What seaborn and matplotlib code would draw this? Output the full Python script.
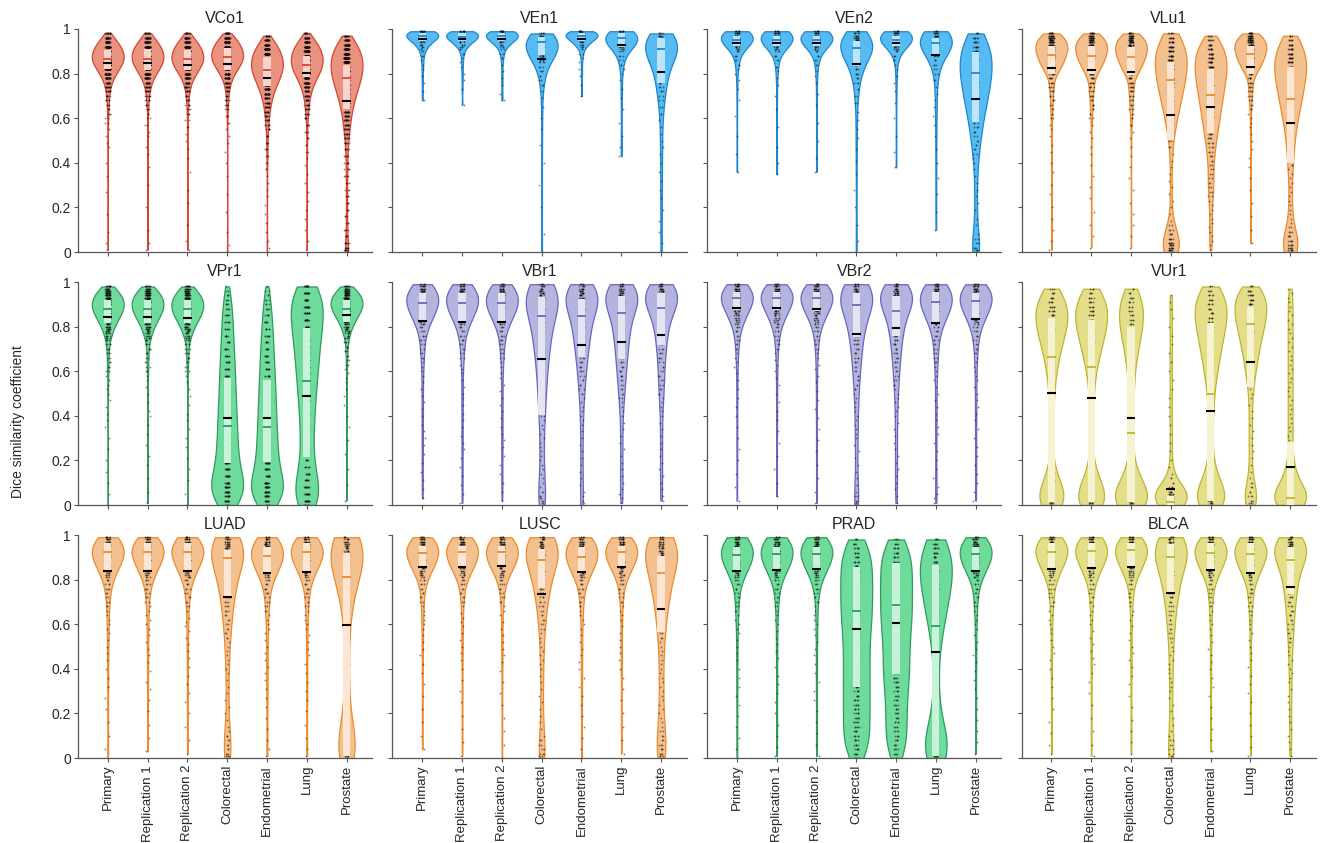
import numpy as np
import pandas as pd
import matplotlib
matplotlib.use("Agg")
import matplotlib.pyplot as plt
import seaborn as sns

sns.set_theme(style="ticks")
plt.rcParams["font.family"] = ["Liberation Sans", "DejaVu Sans"]

GROUPS = ["Primary", "Replication 1", "Replication 2", "Colorectal",
          "Endometrial", "Lung", "Prostate"]
PANELS = ["VCo1", "VEn1", "VEn2", "VLu1",
          "VPr1", "VBr1", "VBr2", "VUr1",
          "LUAD", "LUSC", "PRAD", "BLCA"]

# Dice scores per panel and cohort, written as "value:count" in hundredths
# (a bare value means a single case).
SCORES = {
    "VCo1": [
        "98:14 96:32 94:50 92:64 90:74 88:80 86:78 84:68 82:54 80:40 78:28 76:19 74:13 72:9 70:7 68:5 66:4 64:3 62:3 60:2 58:2 55 52 49 47 40 34 27 17 9 4 1",
        "98:15 96:33 94:50 92:63 90:73 88:78 86:77 84:67 82:55 80:41 78:29 76:20 74:14 72:10 70:7 68:5 66:4 64:3 62:2 60:2 57:2 54 52 47 44 38 30 20 10 4 1",
        "98:14 96:31 94:49 92:62 90:72 88:78 86:78 84:69 82:55 80:42 78:30 76:20 74:14 72:10 70:7 68:5 66:4 64:3 62:3 59:2 56:2 53 50 46 42 36 28 22 12 5 1",
        "98:20 96:40 94:56 92:68 90:76 88:80 86:76 84:64 82:50 80:36 78:25 76:17 74:12 72:8 70:6 68:5 66:4 64:3 61:3 58:2 55 52 49 45 40 34 26 18 9 3 0",
        "97:12 95:26 93:38 91:48 89:56 87:62 85:64 83:64 81:60 79:54 77:46 75:38 73:31 71:25 69:20 67:16 65:13 63:10 61:8 59:7 57:6 55:5 52:4 49:4 46:3 43:3 40:2 37:2 34 31 28 25 21 17 13 9 5 2 0",
        "98:12 96:28 94:42 92:54 90:62 88:68 86:70 84:68 82:62 80:52 78:42 76:33 74:25 72:19 70:14 68:11 66:9 64:7 62:6 60:5 57:4 54:3 51:3 48:2 45:2 42 39 35 31 27 23 19 15 10 5 1",
        "97:14 95:28 93:40 91:48 89:54 87:58 85:60 83:60 81:58 79:55 77:50 75:45 73:40 71:35 69:30 67:26 65:22 63:19 61:16 59:14 57:12 55:10 53:9 51:8 49:7 46:6 43:5 40:5 37:4 34:4 31:3 28:3 25:3 22:3 19:3 16:3 13:3 10:4 7:5 4:6 2:7 1:6 0:5",
    ],
    "VEn1": [
        "99:10 98:14 97:12 96:9 95:7 94:5 93:4 92:3 91:2 90:2 88:2 86 84 82 79 76 72 68",
        "99:9 98:13 97:12 96:10 95:7 94:5 93:4 92:3 91:2 89:2 87 85 83 80 77 73 66",
        "99:10 98:13 97:12 96:9 95:7 94:5 93:4 92:3 91:2 89:2 87:2 84 81 78 75 71 68",
        "98:6 97:8 96:9 95:9 94:9 93:8 92:8 91:7 90:6 89:6 88:5 87:5 86:4 85:4 83:3 81:3 79:2 77:2 75:2 72 69 65 60 55 48 40 30 20 8 0",
        "99:10 98:14 97:12 96:9 95:7 94:5 93:4 92:3 91:2 89:2 87 85 82 79 75 70",
        "99:8 98:10 97:10 96:9 95:8 94:7 93:6 92:5 91:4 90:3 88:3 86:2 84:2 82 80 77 73 69 64 58 52 47 43",
        "98:5 97:6 96:7 95:7 94:7 93:7 92:7 91:7 90:6 89:6 88:6 86:5 84:5 82:4 80:4 78:4 76:3 74:3 72:3 70:2 68:2 65:2 62:2 59 56 53 50 47 44 40 36 32 28 24 19 14 9 4 0",
    ],
    "VEn2": [
        "99:8 98:12 97:13 96:12 95:10 94:8 93:6 92:5 91:4 90:3 88:3 86:2 84:2 82 80 77 73 68 61 52 44 36",
        "99:8 98:12 97:13 96:12 95:10 94:8 93:6 92:5 91:4 90:3 88:3 86:2 83:2 81 78 75 70 64 56 47 40 35",
        "99:8 98:11 97:13 96:12 95:10 94:8 93:6 92:5 91:4 90:3 88:3 86:2 84:2 81 79 76 71 66 58 50 42 36",
        "99:4 98:6 97:7 96:8 95:8 94:8 93:8 92:8 91:7 90:7 89:6 88:6 87:5 86:5 84:5 82:4 80:4 78:3 76:3 73:2 70:2 67:2 63 59 55 51 46 41 35 28 20 12 5 0",
        "99:8 98:12 97:13 96:12 95:10 94:8 93:6 92:5 91:4 90:3 88:3 86:2 84 82 79 76 72 67 60 52 45 38",
        "99:6 98:8 97:9 96:9 95:9 94:8 93:7 92:6 91:5 90:5 89:4 88:4 86:3 84:3 82:2 80:2 77:2 74 71 68 65 61 57 52 46 40 33 26 18 10",
        "98:4 96:6 94:7 92:8 90:8 88:8 86:8 84:8 82:8 80:8 78:7 76:7 74:7 72:6 70:6 68:5 66:5 64:5 62:4 60:4 58:3 56:3 54:3 52:2 50:2 48:2 46:2 44:2 42 40 37 34 31 28 25 22 19 15 12 8 6:2 4:2 2:3 1:3 0:3",
    ],
    "VLu1": [
        "98:12 97:14 96:15 95:16 94:17 93:17 92:17 91:17 90:17 89:16 88:15 87:14 86:13 85:12 84:11 83:10 82:9 81:8 80:7 78:6 76:5 74:4 72:4 70:3 68:3 66:2 64:2 62:2 60:2 57 55 52 48 45 40 36 30 26 20 15 10 5 1",
        "98:11 97:13 96:14 95:15 94:16 93:17 92:17 91:17 90:16 89:16 88:15 87:14 86:13 85:12 84:11 83:10 82:9 81:8 80:8 78:7 76:6 74:5 72:4 70:4 68:3 66:3 64:2 62:2 60:2 57 54 51 47 44 39 34 29 24 18 12 7 2",
        "98:11 97:13 96:14 95:15 94:16 93:16 92:17 91:17 90:16 89:16 88:15 87:14 86:13 85:12 84:11 83:10 82:10 81:9 80:8 78:7 76:6 74:5 72:5 70:4 68:3 66:3 64:3 62:2 60:2 57:2 54 51 47 43 38 33 28 22 17 12 7 2",
        "98:6 96:9 94:11 92:12 90:13 88:13 86:13 84:13 82:12 80:12 78:11 76:10 74:10 72:9 70:8 68:8 66:7 64:6 62:5 60:5 58:4 56:3 54:3 52:2 50:2 47:2 44 41 38 35 32 29 26 23 20 17 14 12:2 10:3 8:4 6:6 4:8 3:8 2:8 1:7 0:5",
        "97:4 95:7 93:9 91:10 89:11 87:12 85:12 83:12 81:12 79:11 77:11 75:10 73:10 71:9 69:9 67:8 65:8 63:7 61:7 59:6 57:6 55:5 53:5 51:4 49:4 47:3 45:3 43:3 41:2 39:2 37:2 35:2 33:2 31:2 29:2 27:2 25:2 23 21 19 17 15 13 11 9 7 5 3 1",
        "98:12 97:14 96:15 95:16 94:17 93:17 92:17 91:17 90:17 89:16 88:15 87:14 86:13 85:12 84:11 83:10 82:9 81:8 80:7 78:6 76:5 74:4 72:4 70:3 68:3 66:2 64:2 62 60 58 56 53 50 46 42 38 33 28 22 16 10 4",
        "97:4 95:6 93:8 91:9 89:10 87:10 85:10 83:10 81:10 79:9 77:9 75:8 73:8 71:7 69:7 67:6 65:6 63:5 61:5 59:4 57:4 55:3 53:3 51:3 49:2 47:2 45:2 43:2 41:2 39:2 37 35 33 31 29 27 25 23 21 19 17 15 13 11:2 9:3 7:4 5:5 3:6 2:6 1:5 0:4",
    ],
    "VPr1": [
        "98:10 97:13 96:16 95:18 94:20 93:22 92:23 91:24 90:24 89:24 88:23 87:22 86:20 85:18 84:16 83:14 82:12 81:10 80:9 79:8 78:7 77:6 76:5 75:4 74:4 72:4 70:3 68:3 66:2 64:2 62:2 60:2 58 56 54 52 50 47 44 41 38 35 30 25 20 15 10 5 0",
        "98:10 97:13 96:16 95:18 94:20 93:22 92:23 91:24 90:24 89:23 88:23 87:22 86:20 85:18 84:16 83:14 82:12 81:11 80:9 79:8 78:7 77:6 76:5 75:4 74:4 72:4 70:3 68:3 66:2 64:2 62:2 60:2 58 56 53 50 46 42 40 36 32 27 22 18 12 6 1",
        "98:10 97:12 96:15 95:17 94:19 93:21 92:22 91:23 90:24 89:23 88:23 87:22 86:20 85:19 84:17 83:15 82:13 81:11 80:10 79:8 78:7 77:6 76:5 75:5 74:4 72:4 70:3 68:3 66:3 64:2 62:2 60:2 58 55 52 49 45 41 38 34 30 26 21 16 11 5 0",
        "98 96:2 94:3 92:3 90:4 88:4 85:6 82:6 79:6 76:7 73:7 70:7 67:8 64:8 61:8 58:9 55:9 52:9 49:9 46:10 43:10 40:10 37:11 34:11 31:11 28:11 25:12 22:12 19:13 16:14 13:15 10:16 8:16 6:16 4:14 2:12 0:8",
        "98 96:2 94:2 92:3 90:3 88:4 85:5 82:6 79:6 76:7 73:7 70:7 67:8 64:8 61:8 58:9 55:9 52:9 49:10 46:10 43:10 40:10 37:11 34:11 31:11 28:12 25:12 22:12 19:13 16:14 13:15 10:16 8:16 6:17 4:15 2:12 0:8",
        "98:14 95:16 92:16 89:16 86:15 83:15 80:14 77:13 74:12 71:12 68:11 65:11 62:10 59:10 56:9 53:9 50:8 47:8 44:7 41:7 38:7 35:6 32:6 29:6 26:6 23:6 20:6 17:7 14:8 11:10 8:12 5:14 2:15 0:10",
        "98:10 97:14 96:17 95:19 94:21 93:23 92:24 91:25 90:25 89:24 88:23 87:21 86:19 85:17 84:15 83:13 82:11 81:9 80:8 79:7 78:6 77:5 76:4 75:4 73:4 71:3 69:3 67:2 65:2 63:2 61 59 57 55 52 49 45 40 35 29 23 16 9 2",
    ],
    "VBr1": [
        "99:6 98:8 97:9 96:10 95:10 94:10 93:10 92:10 91:9 90:9 89:8 88:8 87:7 86:6 85:6 84:5 83:5 82:4 81:4 80:3 78:3 76:3 74:3 72:2 70:2 68:2 66:2 64 62 60 58 55 52 49 46 43 40 36 33 30 27 23 19 15 11 7 3",
        "99:6 98:8 97:9 96:10 95:10 94:10 93:10 92:10 91:9 90:9 89:8 88:8 87:7 86:6 85:6 84:5 83:5 82:4 81:4 80:3 78:3 76:3 74:3 72:2 70:2 68:2 66:2 63 61 59 56 53 50 48 45 41 38 35 31 28 25 21 17 13 9 5 1",
        "99:6 98:8 97:9 96:10 95:10 94:10 93:10 92:9 91:9 90:9 89:8 88:8 87:7 86:7 85:6 84:5 83:5 82:4 81:4 80:3 78:3 76:3 74:3 72:2 70:2 68:2 66:2 64 62 59 57 54 51 48 45 42 39 35 32 29 26 22 18 14 10 6 2",
        "99:5 98:6 97:6 96:6 95:6 94:6 93:6 92:6 91:6 90:6 88:6 86:6 84:5 82:5 80:5 78:5 76:4 74:4 72:4 70:4 68:3 66:3 64:3 62:3 60:3 58:2 56:2 54:2 52:2 50:2 48:2 46:2 44:2 42 40:2 38 36 34 32 30 28 26 24 22 20 18 16 14 12 10 8 6:2 4:2 3:2 2:2 1:2 0:2",
        "99:5 98:6 97:7 96:7 95:7 94:7 93:7 92:7 91:7 90:7 88:7 86:6 84:6 82:6 80:6 78:5 76:5 74:5 72:4 70:4 68:4 66:3 64:3 62:3 60:3 58:2 56:2 54:2 52:2 50:2 48 46 44 42 40 38 36 33 30 27 24 21 18 15 12 9 6 4 2 1 0",
        "99:5 98:7 97:7 96:7 95:7 94:7 93:7 92:7 91:7 90:7 88:6 86:6 84:6 82:6 80:5 78:5 76:5 74:4 72:4 70:4 68:4 66:3 64:3 62:3 60:3 58:3 56:2 54:2 52:2 50:2 48:2 46 44 42 40 37 34 31 28 25 22 19 16 13 10 7 5 3 1",
        "99:6 98:7 97:8 96:8 95:8 94:8 93:8 92:8 91:8 90:7 88:7 86:6 84:6 82:5 80:5 78:4 76:4 74:4 72:3 70:3 68:3 66:3 64:2 62:2 60:2 58:2 56:2 54:2 52:2 50:2 48 46 44 42 40 37 34 31 28 25 22 19 16 13 10 7 4 2",
    ],
    "VBr2": [
        "99:7 98:9 97:10 96:11 95:11 94:11 93:10 92:10 91:9 90:8 89:7 88:6 87:6 86:5 85:5 84:4 83:4 82:3 81:3 80:3 78:3 76:2 74:2 72:2 70:2 68 66 64 62 59 56 52 48 44 40 35 30 25 20 14 8 2",
        "99:7 98:9 97:10 96:11 95:11 94:11 93:10 92:10 91:9 90:8 89:7 88:6 87:6 86:5 85:5 84:4 83:4 82:3 81:3 80:3 78:3 76:2 74:2 72:2 70:2 68 65 63 60 57 54 50 46 42 38 33 28 22 16 10 4",
        "99:7 98:9 97:10 96:11 95:11 94:10 93:10 92:10 91:9 90:8 89:7 88:7 87:6 86:5 85:5 84:4 83:4 82:3 81:3 80:3 78:3 76:2 74:2 72:2 70:2 68 66 63 61 58 55 51 47 43 39 34 29 24 18 12 6 1",
        "99:6 98:7 97:8 96:8 95:8 94:8 93:8 92:8 91:7 90:7 88:7 86:6 84:6 82:5 80:5 78:5 76:4 74:4 72:4 70:3 68:3 66:3 64:3 62:2 60:2 58:2 56:2 54:2 52:2 50 48 46 44 42 40 38 36 34 32 30 27 24 21 18 15 12 9 6 4:2 2:2 1:2 0:2",
        "99:6 98:7 97:8 96:8 95:8 94:8 93:8 92:8 91:8 90:8 88:7 86:7 84:6 82:6 80:5 78:5 76:4 74:4 72:4 70:3 68:3 66:3 64:3 62:2 60:2 58:2 56:2 54:2 52 50 48 46 44 42 40 37 34 31 28 25 22 19 16 13 10 7 4 1",
        "99:7 98:9 97:10 96:10 95:10 94:10 93:9 92:9 91:8 90:8 89:7 88:7 87:6 86:6 85:5 84:5 83:4 82:4 81:4 80:3 78:3 76:3 74:3 72:2 70:2 68:2 66:2 64:2 62 60 58 56 53 50 47 44 41 38 35 32 28 24 20 16 12 8 5 3 1",
        "99:7 98:9 97:10 96:10 95:10 94:10 93:10 92:9 91:9 90:8 89:7 88:7 87:6 86:6 85:5 84:5 83:4 82:4 81:3 80:3 78:3 76:3 74:2 72:2 70:2 68:2 66 64 62 60 58 56 53 50 47 44 41 38 34 30 26 22 18 14 10 6 2",
    ],
    "VUr1": [
        "97:3 95:4 93:5 91:5 89:6 87:6 85:6 83:6 81:5 79:5 77:5 75:4 73:4 71:3 69:3 67:3 65:2 63:2 61:2 59:2 57 55 53 51 49 47 45 42 38 34 30 26 22 18 15:2 13:2 11:3 9:3 7:4 5:4 3:5 2:5 1:5 0:4",
        "97:3 95:4 93:5 91:5 89:5 87:6 85:6 83:5 81:5 79:5 77:4 75:4 73:4 71:3 69:3 67:3 65:2 63:2 61:2 59 57 55 53 51 49 46 43 40 36 32 28 24 20 17 15:2 13:2 11:3 9:3 7:4 5:4 3:5 2:5 1:6 0:4",
        "97:2 95:3 93:4 91:4 89:4 87:4 85:4 83:4 81:4 79:3 77:3 75:3 73:3 71:2 69:2 67:2 65:2 63 61 59 57 55 53 51 49 46 43 40 37 34 31 28 25 22 19 16:2 14:2 12:3 10:3 8:4 6:5 4:5 3:6 2:6 1:6 0:5",
        "94 91 88 84 80 76 72 68 64 60 56 52 48 44 40 36 32 28 24 20 17 14 12:2 10:2 8:3 7:4 6:5 5:6 4:7 3:7 2:7 1:6 0:5",
        "98:3 96:4 94:5 92:5 90:5 88:5 86:5 84:5 82:5 80:4 78:4 76:4 74:4 72:3 70:3 68:3 66:3 64:2 62:2 60:2 58:2 56:2 54 52 50 48 46 44 41 38 35 32 29 26 23 20 17 15:2 13:2 11:3 9:3 7:4 5:4 3:5 2:5 1:5 0:4",
        "98:4 96:6 94:7 92:7 90:7 88:7 86:7 84:6 82:6 80:6 78:5 76:5 74:4 72:4 70:4 68:3 66:3 64:3 62:2 60:2 58:2 56:2 54 52 50 48 45 42 39 36 33 30 27 24 21 18 15 12 10:2 8:2 6:2 4:3 2:3 1:3 0:2",
        "97 95 93 91 89 87 85 83 81 79 77 75 73 71 69 67 65 63 61 59 57 55 53 51 49 47 45 43 41 39 37 35 33 31 29 27 25 23 21 19 17:2 15:2 13:3 11:3 9:4 7:5 5:6 4:6 3:7 2:7 1:7 0:6",
    ],
    "LUAD": [
        "99:7 98:9 97:10 96:10 95:10 94:10 93:10 92:10 91:9 90:9 89:8 88:7 87:6 86:6 85:5 84:5 83:4 82:4 81:3 80:3 78:3 76:3 74:2 72:2 70:2 68:2 66 64 62 60 58 56 53 50 47 44 40 36 32 27 22 16 10 4 0",
        "99:7 98:9 97:10 96:10 95:10 94:10 93:10 92:10 91:9 90:9 89:8 88:7 87:6 86:6 85:5 84:5 83:4 82:4 81:3 80:3 78:3 76:3 74:2 72:2 70:2 68 66 64 62 60 58 55 52 49 46 43 39 34 31 26 21 15 9 3",
        "99:7 98:9 97:10 96:10 95:10 94:10 93:10 92:10 91:9 90:8 89:8 88:7 87:6 86:6 85:5 84:5 83:4 82:4 81:4 80:3 78:3 76:3 74:2 72:2 70:2 68:2 66 63 61 59 57 54 51 48 45 41 37 33 29 25 20 14 8 2",
        "99:6 98:7 97:7 96:7 95:7 94:7 93:7 92:7 91:7 90:6 88:6 86:6 84:6 82:5 80:5 78:5 76:4 74:4 72:4 70:3 68:3 66:3 64:2 62:2 60:2 58:2 56:2 54:2 52 50 48 46 44 42 40 38 35 32 29 26 23 20 17 14 12 10:2 8:2 6:2 4:2 2:3 1:3 0:2",
        "99:6 98:8 97:9 96:9 95:9 94:9 93:9 92:9 91:9 90:8 89:8 88:7 87:7 86:6 85:6 84:5 83:5 82:4 81:4 80:3 78:3 76:3 74:3 72:2 70:2 68:2 66:2 64 62 60 58 56 53 50 47 44 41 38 35 31 27 23 18 13 8 4 1",
        "99:7 98:9 97:10 96:10 95:10 94:10 93:10 92:10 91:9 90:9 89:8 88:7 87:6 86:6 85:5 84:5 83:4 82:4 81:3 80:3 78:3 76:3 74:2 72:2 70:2 68:2 66 64 62 60 58 55 52 49 46 42 38 34 30 26 21 15 9 4 1",
        "99:5 98:6 97:6 96:6 95:6 94:6 93:6 92:6 91:6 90:6 88:6 86:5 84:5 82:5 80:5 78:4 76:4 74:3 72:3 70:2 68:2 66:2 64:2 62 60 58 56 54 52 50 48 46 44 42 40 38 36 34 32 30 28 26 24 22 20 18:2 16:2 14:2 12:3 10:3 8:4 6:4 4:5 3:5 2:5 1:5 0:4",
    ],
    "LUSC": [
        "99:7 98:9 97:10 96:10 95:10 94:10 93:10 92:10 91:9 90:9 89:8 88:7 87:7 86:6 85:6 84:5 83:4 82:4 81:3 80:3 78:3 76:2 74:2 72:2 70:2 68 66 64 62 60 58 55 52 49 46 42 38 33 28 22 16 10 4",
        "99:7 98:9 97:10 96:10 95:10 94:10 93:10 92:10 91:9 90:9 89:8 88:8 87:7 86:6 85:6 84:5 83:4 82:4 81:3 80:3 78:3 76:2 74:2 72:2 70:2 68 65 63 61 59 56 53 50 47 44 40 35 30 25 19 13 7 1",
        "99:7 98:9 97:10 96:10 95:10 94:10 93:10 92:10 91:9 90:9 89:8 88:8 87:7 86:7 85:6 84:5 83:4 82:4 81:3 80:3 78:3 76:2 74:2 72:2 70:2 68 66 64 61 58 55 52 49 46 43 39 34 29 24 18 12 6 0",
        "99:6 98:7 97:7 96:7 95:7 94:7 93:7 92:7 91:7 90:7 88:6 86:6 84:6 82:5 80:5 78:5 76:4 74:4 72:3 70:3 68:3 66:2 64:2 62:2 60:2 58:2 56 54 52 50 48 46 44 42 40 37 34 31 28 25 22 19 16 13 10 8:2 6:2 4:2 2:3 1:2 0:2",
        "99:6 98:8 97:9 96:9 95:9 94:9 93:9 92:9 91:9 90:8 89:8 88:7 87:7 86:6 85:6 84:5 83:5 82:4 81:4 80:3 78:3 76:3 74:2 72:2 70:2 68:2 66 64 62 60 58 55 52 49 46 43 40 36 32 28 24 19 14 9 4 0",
        "99:7 98:9 97:10 96:10 95:10 94:10 93:10 92:10 91:9 90:9 89:8 88:7 87:7 86:6 85:6 84:5 83:4 82:4 81:3 80:3 78:3 76:2 74:2 72:2 70:2 68 66 64 62 59 56 53 50 47 44 40 36 31 26 20 14 8 2",
        "99:5 98:6 97:6 96:6 95:6 94:6 93:6 92:6 91:6 90:6 88:6 86:6 84:5 82:5 80:5 78:5 76:4 74:4 72:4 70:3 68:3 66:3 64:2 62:2 60:2 58:2 56:2 54:2 52 50 48 46 44 42 40 38 36 34 32 30 28 26 24 22 20 18 16 14 12:2 10:2 8:2 6:3 4:3 2:3 1:3 0:2",
    ],
    "PRAD": [
        "99:7 98:9 97:10 96:10 95:10 94:10 93:10 92:9 91:9 90:9 89:8 88:8 87:7 86:7 85:6 84:5 83:5 82:4 81:4 80:3 78:3 76:3 74:2 72:2 70:2 68:2 66:2 64 62 60 58 56 53 50 47 44 40 36 32 28 24 19 14 9 4 0",
        "99:7 98:9 97:10 96:10 95:10 94:10 93:10 92:9 91:9 90:9 89:8 88:8 87:7 86:6 85:6 84:5 83:5 82:4 81:4 80:3 78:3 76:3 74:2 72:2 70:2 68:2 66 64 62 60 57 54 51 48 45 41 37 33 29 25 20 15 10 5 1",
        "99:7 98:9 97:10 96:10 95:10 94:10 93:10 92:10 91:9 90:9 89:8 88:8 87:7 86:6 85:6 84:5 83:5 82:4 81:4 80:3 78:3 76:3 74:2 72:2 70:2 68 66 64 62 60 58 55 52 49 46 42 38 34 30 26 21 16 11 6 1",
        "98:4 96:5 94:6 92:6 90:6 88:6 86:6 84:6 82:6 80:6 78:6 76:6 74:6 72:6 70:6 68:6 66:6 64:6 62:6 60:6 58:5 56:5 54:5 52:5 50:5 48:5 46:5 44:5 42:5 40:5 38:5 36:5 34:5 32:5 30:5 28:5 26:5 24:5 22:5 20:5 18:5 16:5 14:5 12:5 10:5 8:5 6:5 4:5 2:5 0:4",
        "98:4 96:5 94:6 92:6 90:6 88:6 86:6 84:6 82:6 80:6 78:6 76:6 74:6 72:6 70:6 68:6 66:6 64:6 62:6 60:6 58:6 56:5 54:5 52:5 50:5 48:5 46:5 44:5 42:5 40:5 38:5 36:5 34:5 32:5 30:4 28:4 26:4 24:4 22:4 20:4 18:4 16:4 14:4 12:4 10:4 8:4 6:4 4:4 2:4 0:3",
        "98:5 96:6 94:7 92:7 90:7 88:7 86:7 84:7 82:6 80:6 78:6 76:6 74:5 72:5 70:5 68:4 66:4 64:4 62:3 60:3 58:3 56:2 54:2 52:2 50:2 48 46 44 42 40 38 36 34 32 30 28 26 24 22 20:2 18:2 16:2 14:3 12:3 10:4 8:5 6:6 4:7 2:7 1:7 0:5",
        "99:7 98:9 97:10 96:10 95:10 94:10 93:10 92:9 91:9 90:9 89:8 88:8 87:7 86:7 85:6 84:5 83:5 82:4 81:4 80:3 78:3 76:3 74:2 72:2 70:2 68:2 66 64 62 60 58 55 52 49 46 43 39 35 31 27 22 17 12 7 2",
    ],
    "BLCA": [
        "99:8 98:10 97:11 96:11 95:10 94:10 93:10 92:9 91:9 90:8 89:8 88:7 87:6 86:6 85:5 84:5 83:4 82:4 81:3 80:3 78:3 76:3 74:2 72:2 70:2 68:2 66 64 62 60 58 56 53 50 47 44 40 36 32 27 22 16 11 6 2",
        "99:8 98:10 97:11 96:11 95:10 94:10 93:10 92:9 91:9 90:8 89:8 88:7 87:6 86:6 85:5 84:5 83:4 82:4 81:3 80:3 78:3 76:3 74:2 72:2 70:2 68 66 64 62 60 57 54 51 48 45 42 38 34 29 24 18 12 6 1",
        "99:8 98:10 97:11 96:11 95:11 94:10 93:10 92:9 91:9 90:8 89:8 88:7 87:6 86:6 85:5 84:5 83:4 82:4 81:3 80:3 78:3 76:2 74:2 72:2 70:2 68 66 64 62 59 56 53 50 47 44 41 37 33 28 23 17 12 7 2",
        "99:6 98:7 97:7 96:7 95:7 94:7 93:7 92:7 91:7 90:7 88:6 86:6 84:6 82:5 80:5 78:5 76:4 74:4 72:4 70:3 68:3 66:3 64:2 62:2 60:2 58:2 56:2 54:2 52 50 48 46 44 42 40 38 36 34 32 30 27 24 21 18 15 12 10 8:2 6:2 4:2 2:2 1:2 0:2",
        "99:8 98:10 97:10 96:10 95:10 94:10 93:10 92:9 91:9 90:8 89:8 88:7 87:7 86:6 85:6 84:5 83:4 82:4 81:4 80:3 78:3 76:3 74:2 72:2 70:2 68:2 66 64 62 60 58 55 52 49 46 43 40 36 32 28 23 18 13 8 3",
        "99:8 98:10 97:10 96:10 95:10 94:10 93:10 92:9 91:9 90:8 89:8 88:7 87:7 86:6 85:6 84:5 83:5 82:4 81:4 80:3 78:3 76:3 74:3 72:2 70:2 68:2 66:2 64 62 60 58 56 53 50 47 44 41 37 33 29 25 20 15 10 5 1",
        "99:6 98:7 97:8 96:8 95:8 94:8 93:8 92:8 91:7 90:7 88:7 86:6 84:6 82:6 80:5 78:5 76:4 74:4 72:4 70:3 68:3 66:3 64:3 62:2 60:2 58:2 56:2 54:2 52:2 50 48 46 44 42 40 38 36 34 31 28 25 22 19 16 13 10 7 4 1",
    ],
}

# Summary statistics per cohort: interquartile box, median and mean
Q1 = {
    "VCo1": [.819, .818, .818, .815, .744, .786, .641],
    "VEn1": [.946, .948, .946, .883, .947, .918, .759],
    "VEn2": [.924, .924, .924, .835, .926, .878, .584],
    "VLu1": [.800, .797, .793, .502, .532, .800, .400],
    "VPr1": [.818, .816, .818, .190, .193, .214, .822],
    "VBr1": [.825, .822, .822, .402, .665, .653, .717],
    "VBr2": [.874, .874, .872, .752, .758, .815, .833],
    "VUr1": [.015, .015, .015, .000, .020, .530, .000],
    "LUAD": [.839, .840, .839, .720, .828, .832, .010],
    "LUSC": [.855, .858, .861, .761, .836, .858, .567],
    "PRAD": [.840, .843, .849, .318, .376, .010, .839],
    "BLCA": [.848, .854, .857, .734, .843, .831, .734],
}
Q3 = {
    "VCo1": [.906, .909, .906, .915, .876, .878, .839],
    "VEn1": [.983, .983, .983, .966, .983, .980, .958],
    "VEn2": [.969, .969, .969, .948, .969, .958, .898],
    "VLu1": [.925, .922, .918, .853, .822, .925, .828],
    "VPr1": [.919, .920, .919, .568, .560, .792, .921],
    "VBr1": [.952, .952, .952, .931, .924, .937, .949],
    "VBr2": [.957, .957, .957, .949, .937, .957, .952],
    "VUr1": [.837, .830, .800, .040, .815, .889, .284],
    "LUAD": [.963, .963, .963, .933, .948, .963, .921],
    "LUSC": [.951, .951, .951, .936, .945, .951, .906],
    "PRAD": [.948, .948, .948, .855, .873, .866, .945],
    "BLCA": [.966, .966, .966, .958, .966, .966, .945],
}
MEDIAN = {
    "VCo1": [.867, .865, .865, .876, .815, .839, .779],
    "VEn1": [.970, .966, .969, .940, .968, .958, .909],
    "VEn2": [.951, .951, .951, .913, .951, .936, .801],
    "VLu1": [.885, .879, .876, .770, .703, .887, .688],
    "VPr1": [.879, .879, .877, .355, .351, .556, .881],
    "VBr1": [.904, .907, .904, .849, .849, .862, .883],
    "VBr2": [.927, .927, .927, .897, .871, .910, .916],
    "VUr1": [.662, .617, .321, .015, .500, .810, .030],
    "LUAD": [.922, .925, .925, .895, .907, .925, .810],
    "LUSC": [.921, .925, .926, .888, .903, .922, .828],
    "PRAD": [.910, .913, .915, .660, .684, .593, .913],
    "BLCA": [.925, .930, .933, .903, .920, .917, .888],
}
MEAN = {
    "VCo1": [.846, .846, .840, .842, .782, .801, .679],
    "VEn1": [.954, .957, .954, .864, .955, .930, .809],
    "VEn2": [.936, .936, .936, .843, .936, .883, .686],
    "VLu1": [.824, .815, .809, .614, .652, .828, .580],
    "VPr1": [.845, .845, .837, .392, .390, .490, .851],
    "VBr1": [.825, .822, .822, .656, .717, .732, .762],
    "VBr2": [.882, .884, .879, .767, .794, .815, .833],
    "VUr1": [.501, .481, .389, .073, .423, .640, .169],
    "LUAD": [.839, .840, .839, .720, .828, .832, .596],
    "LUSC": [.855, .858, .861, .736, .836, .858, .669],
    "PRAD": [.840, .843, .849, .578, .604, .475, .839],
    "BLCA": [.848, .854, .857, .738, .843, .831, .768],
}

# fill, outline/median, box tint
PALETTES = {
    "red":      ("#E9927F", "#DA4330", "#F8D5CC"),
    "blue":     ("#55BBF2", "#1E86CF", "#BCE4FA"),
    "orange":   ("#F3C08F", "#EC8A2C", "#FCE6D3"),
    "green":    ("#6EDB9D", "#2E9B5B", "#C8F2DA"),
    "lavender": ("#B4B4DF", "#6767C0", "#E4E4F3"),
    "yellow":   ("#E4DE8B", "#BDB52E", "#F6F3D0"),
}
PANEL_COLOR = {
    "VCo1": "red", "VEn1": "blue", "VEn2": "blue", "VLu1": "orange",
    "VPr1": "green", "VBr1": "lavender", "VBr2": "lavender", "VUr1": "yellow",
    "LUAD": "orange", "LUSC": "orange", "PRAD": "green", "BLCA": "yellow",
}
# kernel bandwidth scaling per panel
BW_ADJUST = {"VUr1": 0.45, "VLu1": 0.6}


def expand(spec):
    values = []
    for tok in spec.split():
        if ":" in tok:
            v, c = tok.split(":")
            values.extend([int(v) / 100.0] * int(c))
        else:
            values.append(int(tok) / 100.0)
    return values


fig, axes = plt.subplots(3, 4, figsize=(13.2, 8.43), dpi=100)
fig.subplots_adjust(left=0.059, right=0.997, top=0.9656, bottom=0.1008,
                    wspace=0.068, hspace=0.1345)

for idx, (ax, name) in enumerate(zip(axes.flat, PANELS)):
    row, col = divmod(idx, 4)
    fill, edge, tint = PALETTES[PANEL_COLOR[name]]

    rows = []
    for grp, spec in zip(GROUPS, SCORES[name]):
        rows += [(grp, v) for v in expand(spec)]
    df = pd.DataFrame(rows, columns=["cohort", "dice"])

    sns.violinplot(data=df, x="cohort", y="dice", order=GROUPS, ax=ax,
                   color=fill, linecolor=edge, linewidth=0.9, saturation=1,
                   inner=None, cut=0, density_norm="width", width=0.8,
                   bw_adjust=BW_ADJUST.get(name, 0.75))
    sns.stripplot(data=df, x="cohort", y="dice", order=GROUPS, ax=ax,
                  color="#111111", size=1.3, alpha=0.5, jitter=0.06,
                  linewidth=0, zorder=2)

    pos = np.arange(len(GROUPS))
    q1 = np.array(Q1[name])
    q3 = np.array(Q3[name])
    ax.bar(pos, q3 - q1, bottom=q1, width=0.18, color=tint,
           linewidth=0, zorder=3)
    ax.hlines(MEDIAN[name], pos - 0.11, pos + 0.11, color=edge,
              linewidth=1.3, zorder=4)
    ax.hlines(MEAN[name], pos - 0.11, pos + 0.11, color="black",
              linewidth=1.5, zorder=5)

    ax.set_xlim(-0.75, 6.65)
    ax.set_ylim(0, 1)
    ax.set_title(name, fontsize=11.5, pad=4)
    ax.set_xlabel("")
    ax.set_ylabel("")
    sns.despine(ax=ax)
    for side in ("left", "bottom"):
        ax.spines[side].set_color("#555555")
        ax.spines[side].set_linewidth(0.9)
    ax.tick_params(axis="both", length=3, width=0.8, color="#555555",
                   labelsize=10, pad=2)
    ax.tick_params(axis="x", labelsize=9.5)
    ax.set_yticks([0, 0.2, 0.4, 0.6, 0.8, 1])
    if col == 0:
        ax.set_yticklabels(["0", "0.2", "0.4", "0.6", "0.8", "1"])
    else:
        ax.set_yticklabels([])
    ax.set_xticks(pos)
    if row == 2:
        ax.set_xticklabels(GROUPS, rotation=90)
    else:
        ax.set_xticklabels([])

fig.text(0.014, 0.5, "Dice similarity coefficient", rotation=90,
         va="center", ha="center", fontsize=10)

fig.savefig("out.png", dpi=100)
